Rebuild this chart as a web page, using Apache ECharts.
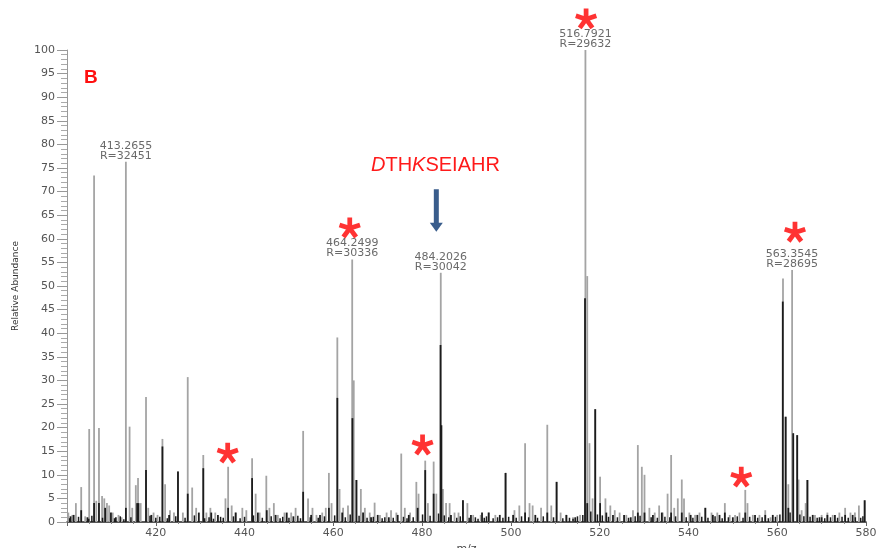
<!DOCTYPE html>
<html>
<head>
<meta charset="utf-8">
<script src="https://cdn.jsdelivr.net/npm/echarts@6/dist/echarts.min.js"></script>
<style>
  html, body { margin: 0; padding: 0; background: #fff; overflow: hidden; }
  #chart { width: 876px; height: 548px; }
</style>
</head>
<body>
<div id="chart"></div>
<script>
// Mass spectrum, panel B: m/z vs relative abundance

// Profile sticks drawn in light grey [m/z, relative abundance]
const greySticks = [
  [400.3, 2], [401.2, 1.5], [402.0, 4], [403.2, 7.4], [404.1, 1.2], [405.0, 19.7], [406.1, 73.4], [406.6, 4.5],
  [407.2, 19.9], [407.9, 5.5], [408.4, 5], [409.0, 4], [409.5, 3.5], [410.3, 2], [411.6, 1.5], [412.3, 1],
  [413.2655, 76.3], [414.1, 20.2], [414.7, 3], [415.5, 7.8], [416.0, 9.3], [416.6, 4], [417.8, 26.5], [418.3, 3],
  [419.5, 2], [420.4, 1.5], [421.5, 17.6], [422.1, 8], [423.2, 2.5], [424.1, 2], [425.0, 10.7], [426.1, 2],
  [427.2, 30.7], [428.2, 7.3], [429.1, 3], [430.7, 14.2], [431.4, 2], [432.3, 3], [433.4, 2], [435.7, 5],
  [436.3, 11.7], [437.1, 3.5], [438.0, 2], [439.5, 3], [440.4, 2.5], [441.7, 13.5], [442.5, 6], [443.4, 2],
  [444.9, 9.8], [445.6, 3], [446.6, 4], [447.5, 1.5], [449.0, 2], [450.5, 2], [451.5, 3], [453.2, 19.3],
  [454.3, 5], [455.3, 3], [456.2, 1.5], [457.5, 2], [458.3, 3], [459.0, 10.4], [459.6, 4], [460.9, 39.1],
  [461.4, 7], [462.2, 3], [463.3, 3.5], [464.2499, 55.6], [464.6, 30], [465.2, 8.9], [466.2, 7], [467.1, 3],
  [468.2, 2], [469.3, 4.1], [470.5, 1.5], [472.0, 2], [473.0, 2.5], [474.2, 2], [475.3, 14.5], [476.1, 3],
  [477.3, 2], [478.7, 8.5], [479.2, 6], [480.7, 13], [481.3, 4], [482.6, 12.8], [483.2, 6], [484.2026, 52.8],
  [484.7, 7], [485.4, 4], [486.2, 4], [487.3, 2], [488.2, 2], [489.2, 4.6], [490.2, 4], [491.5, 1.5],
  [493.2, 1.5], [495.0, 2], [496.5, 1.5], [498.8, 10.4], [500.8, 2.5], [501.9, 3.5], [503.2, 16.7], [504.2, 4],
  [504.9, 3.5], [506.8, 3], [508.2, 20.6], [509.1, 3.5], [510.3, 8.5], [511.2, 2], [512.5, 1.5], [514.0, 1],
  [515.6, 1.5], [516.7921, 100], [517.2, 52.1], [517.7, 16.7], [518.4, 5], [519.0, 23.9], [520.1, 9.6], [521.3, 5],
  [522.4, 3.5], [523.4, 2.5], [524.5, 2], [526.0, 1.5], [527.5, 2.5], [528.6, 16.3], [529.5, 11.7], [530.1, 10],
  [531.2, 3], [532.4, 2], [533.4, 3.5], [534.2, 2], [535.3, 6], [536.1, 14.2], [536.8, 3], [537.6, 5],
  [538.5, 9], [539.0, 5], [540.2, 2], [541.5, 1.5], [542.5, 2], [543.8, 3], [545.2, 2], [546.5, 2],
  [548.2, 4], [549.3, 1.5], [550.5, 1.5], [551.5, 2], [552.8, 6.8], [553.3, 4], [554.5, 1.5], [556.0, 1.5],
  [557.3, 2.5], [558.5, 1], [560.0, 1.5], [561.3, 51.6], [561.9, 22.3], [562.5, 8], [563.3545, 53.4], [563.6, 18.8],
  [564.5, 18.4], [564.8, 9], [565.5, 2.5], [566.4, 4], [566.8, 8.9], [568.5, 1.5], [570.0, 1.5], [571.3, 2],
  [572.5, 1.5], [574.0, 2], [575.3, 3], [576.5, 2], [577.5, 2], [578.4, 3.5], [579.7, 4.6]
];

// Overlaid sticks drawn in black [m/z, relative abundance]
const blackSticks = [
  [400.8, 1.2], [401.5, 1.5], [403.2, 2.5], [404.6, 1], [406.1, 4], [407.2, 4], [408.6, 3], [409.9, 2],
  [411.0, 1], [413.2655, 3], [415.8, 4], [416.1, 4], [417.8, 11], [419.0, 1.5], [421.5, 16], [423.0, 1.5],
  [425.0, 10.7], [427.2, 6], [429.7, 2], [430.7, 11.4], [432.5, 2], [434.0, 1.5], [436.3, 3], [438.0, 2],
  [441.7, 9.3], [443.0, 2], [445.0, 2.5], [447.0, 1.5], [449.5, 2], [451.0, 1.2], [453.2, 6.4], [455.0, 1.5],
  [457.0, 1.5], [459.0, 3], [460.9, 26.3], [462.0, 2], [464.3, 22], [465.2, 8.9], [466.7, 2], [468.5, 1],
  [470.0, 1.5], [472.5, 1], [474.5, 1.5], [477.0, 1.5], [479.0, 3], [480.7, 11], [482.6, 6], [484.15, 37.5],
  [484.35, 20.5], [486.5, 1.5], [489.2, 4.6], [491.0, 1.5], [493.5, 2], [495.0, 2], [497.5, 1.5], [498.8, 10.4],
  [500.5, 1.5], [503.2, 2], [505.5, 1.5], [508.2, 2], [510.3, 8.5], [512.5, 1.5], [514.5, 1], [516.7, 47.4],
  [517.2, 4], [519.0, 23.9], [520.1, 4], [521.5, 2], [523.0, 1.5], [525.5, 1.5], [527.0, 1], [528.6, 2],
  [530.1, 2], [532.0, 1.5], [534.0, 2], [536.1, 2], [538.5, 2], [540.5, 1.5], [542.0, 1.5], [543.8, 3],
  [545.5, 1.5], [547.0, 1.5], [548.2, 2], [550.0, 1], [552.8, 2], [555.0, 1.5], [557.3, 1.5], [559.0, 1.5],
  [561.25, 46.7], [561.9, 22.3], [562.5, 3], [563.6, 18.8], [564.5, 18.4], [566.8, 8.9], [568.0, 1.5], [570.0, 1],
  [571.3, 1.5], [573.0, 1.5], [575.3, 1.5], [577.0, 1.5], [579.7, 4.6]
];

// Low-level baseline noise drawn in black [m/z, relative abundance]
const baselineNoise = [
  [400.6, 0.8], [402.6, 1.1], [404.9, 0.7], [405.6, 1.3], [408.0, 0.9], [410.7, 0.8], [412.0, 1.2], [412.8, 0.6],
  [414.4, 1.0], [418.7, 1.3], [420.0, 0.9], [420.9, 1.1], [422.6, 0.8], [424.5, 1.2], [426.6, 0.9], [428.7, 1.4],
  [431.0, 0.8], [432.0, 1.0], [433.0, 0.7], [434.6, 1.1], [435.2, 0.9], [437.5, 1.2], [439.0, 0.8], [440.0, 1.1],
  [442.0, 1.4], [444.0, 0.9], [446.0, 1.2], [448.0, 0.8], [448.6, 1.1], [450.0, 0.9], [452.0, 1.3], [452.6, 0.8],
  [454.8, 1.0], [456.6, 0.9], [458.0, 1.2], [460.3, 1.4], [462.7, 1.0], [463.8, 1.6], [465.8, 1.3], [467.6, 0.9],
  [469.0, 1.1], [471.0, 0.8], [471.6, 1.0], [473.5, 0.9], [475.8, 1.1], [476.6, 0.8], [478.0, 1.0], [480.1, 1.6],
  [481.8, 1.3], [483.7, 1.8], [485.0, 1.4], [486.0, 1.0], [487.8, 0.9], [488.6, 1.2], [490.6, 0.9], [492.0, 1.0],
  [492.6, 0.7], [494.0, 0.9], [494.5, 1.2], [496.0, 0.8], [497.0, 1.0], [498.2, 0.9], [499.5, 1.1], [501.2, 0.9],
  [502.4, 1.2], [504.0, 1.0], [506.0, 0.9], [507.3, 1.2], [509.6, 1.0], [511.7, 0.8], [513.2, 0.9], [514.0, 0.7],
  [515.0, 1.2], [516.2, 1.5], [518.0, 2.2], [519.5, 1.6], [520.6, 1.4], [522.0, 1.1], [524.0, 1.0], [526.5, 0.9],
  [528.0, 1.2], [529.1, 1.3], [531.6, 1.0], [533.0, 0.9], [534.7, 1.1], [535.8, 1.0], [537.1, 1.2], [539.5, 1.0],
  [541.0, 0.9], [543.0, 1.1], [544.4, 0.9], [546.0, 1.2], [547.6, 0.8], [549.0, 1.0], [551.0, 1.2], [552.3, 0.9],
  [553.8, 1.1], [555.6, 0.9], [556.6, 1.0], [558.0, 0.8], [559.6, 1.1], [560.6, 1.6], [562.9, 2.0], [565.1, 1.6],
  [566.0, 1.2], [567.4, 1.1], [569.0, 0.9], [569.5, 1.0], [570.7, 0.8], [572.0, 1.0], [573.6, 0.9], [574.6, 1.1],
  [576.0, 0.9], [577.6, 1.0], [578.8, 0.9], [579.3, 1.2]
];

// Annotated peaks: m/z, relative abundance, resolution
const labelledMz = [413.2655, 464.2499, 484.2026, 516.7921, 563.3545];
const labelledAbundance = [76.3, 55.6, 52.8, 100, 53.4];
const labelledResolution = [32451, 30336, 30042, 29632, 28695];

// Asterisk markers [m/z, relative abundance]
const asteriskMarks = [
  [516.94, 106.6], [463.7, 62.3], [564.0, 61.4], [436.2, 14.6], [480.1, 16.3], [551.9, 9.5]
];

// Axis ticks
const xTickStart = 400, xTickEnd = 580, xTickStep = 20;
const yTickStart = 0, yTickEnd = 100, yTickStep = 5;

// Five-armed asterisk glyph as a path
function asteriskPath() {
  const L = 50, w = 11, parts = [];
  for (let k = 0; k < 5; k++) {
    const a = (-90 + 72 * k) * Math.PI / 180;
    const dx = Math.cos(a), dy = Math.sin(a), nx = -dy, ny = dx;
    const p = [
      [w * nx, w * ny], [L * dx + w * nx, L * dy + w * ny],
      [L * dx - w * nx, L * dy - w * ny], [-w * nx, -w * ny]
    ].map(q => (q[0] + 60).toFixed(2) + ' ' + (q[1] + 60).toFixed(2));
    parts.push('M' + p[0] + ' L' + p[1] + ' L' + p[2] + ' L' + p[3] + ' Z');
  }
  return 'path://' + parts.join(' ');
}

function stickRenderer(color, width) {
  return function (params, api) {
    const top = api.coord([api.value(0), api.value(1)]);
    const base = api.coord([api.value(0), 0]);
    return {
      type: 'line',
      shape: { x1: top[0], y1: top[1], x2: base[0], y2: base[1] },
      style: { stroke: color, lineWidth: width }
    };
  };
}

const chart = echarts.init(document.getElementById('chart'), null, { renderer: 'canvas' });

const axisFont = 'DejaVu Sans';
chart.setOption({
  animation: false,
  backgroundColor: '#ffffff',
  grid: { left: 67, right: 10, top: 50, bottom: 26, containLabel: false, outerBoundsMode: 'none' },
  xAxis: {
    type: 'value',
    min: xTickStart, max: xTickEnd, interval: xTickStep,
    name: 'm/z', nameLocation: 'middle', nameGap: 19,
    nameTextStyle: { fontFamily: axisFont, fontSize: 11, color: '#444' },
    axisLine: { lineStyle: { color: '#222', width: 1.5 } },
    axisTick: { show: true, length: 4, lineStyle: { color: '#666' } },
    minorTick: { show: true, splitNumber: 4, length: 2, lineStyle: { color: '#888' } },
    axisLabel: {
      margin: 6, fontFamily: axisFont, fontSize: 11, color: '#555',
      formatter: v => (v === xTickStart ? '' : String(v))
    },
    splitLine: { show: false }
  },
  yAxis: {
    type: 'value',
    min: yTickStart, max: yTickEnd, interval: yTickStep,
    name: 'Relative Abundance', nameLocation: 'middle', nameGap: 47,
    nameTextStyle: { fontFamily: axisFont, fontSize: 9, color: '#333' },
    axisLine: { show: true, lineStyle: { color: '#999', width: 1 } },
    axisTick: { show: true, length: 10, lineStyle: { color: '#999' } },
    minorTick: { show: true, splitNumber: 5, length: 6, lineStyle: { color: '#aaa' } },
    axisLabel: { margin: 12, fontFamily: axisFont, fontSize: 11, color: '#555' },
    splitLine: { show: false }
  },
  series: [
    {
      name: 'grey',
      type: 'custom',
      renderItem: stickRenderer('#a4a4a4', 1.8),
      data: greySticks,
      encode: { x: 0, y: 1 },
      clip: true,
      z: 2
    },
    {
      name: 'black',
      type: 'custom',
      renderItem: stickRenderer('#1c1c1c', 1.8),
      data: blackSticks,
      encode: { x: 0, y: 1 },
      clip: true,
      z: 3
    },
    {
      name: 'baseline',
      type: 'custom',
      renderItem: stickRenderer('#1c1c1c', 1.5),
      data: baselineNoise,
      encode: { x: 0, y: 1 },
      clip: true,
      z: 3
    },
    {
      name: 'peak labels',
      type: 'scatter',
      symbolSize: 0,
      clip: false,
      data: labelledMz.map((m, i) => [m, labelledAbundance[i], labelledResolution[i]]),
      label: {
        show: true,
        position: 'top',
        distance: 1,
        fontFamily: axisFont,
        fontSize: 11,
        lineHeight: 10,
        color: '#444',
        align: 'center',
        formatter: p => p.value[0].toFixed(4) + '\nR=' + p.value[2]
      },
      z: 4
    },
    {
      name: 'asterisks',
      type: 'scatter',
      symbol: asteriskPath(),
      symbolSize: 22,
      symbolKeepAspect: true,
      clip: false,
      itemStyle: { color: '#ff0000' },
      data: asteriskMarks,
      z: 5
    }
  ]
});

// Panel letter, peptide sequence and arrow pointing at the 484.2 peak
const arrowTop = chart.convertToPixel({ gridIndex: 0 }, [483.2, 70.5]);
const arrowTip = chart.convertToPixel({ gridIndex: 0 }, [483.2, 61.5]);
const seqPos = chart.convertToPixel({ gridIndex: 0 }, [483.0, 75.5]);
const ax = arrowTop[0], ay = arrowTop[1], ty = arrowTip[1];

chart.setOption({
  graphic: [
    {
      type: 'text', left: 84, top: 68, z: 10,
      style: { text: 'B', fill: '#ff1010', font: 'bold 19px "Liberation Sans", Arial, sans-serif' }
    },
    {
      type: 'text', x: seqPos[0], y: seqPos[1], z: 10,
      style: {
        text: '{i|D}{n|TH}{i|K}{n|SEIAHR}',
        align: 'center', verticalAlign: 'middle',
        rich: {
          i: { fill: '#ff1a1a', fontFamily: '"Liberation Sans", Arial, sans-serif', fontSize: 20, fontStyle: 'italic' },
          n: { fill: '#ff1a1a', fontFamily: '"Liberation Sans", Arial, sans-serif', fontSize: 20 }
        }
      }
    },
    {
      type: 'rect', z: 10,
      shape: { x: ax - 2.5, y: ay, width: 5, height: ty - ay - 8 },
      style: { fill: '#3a5d8c' }
    },
    {
      type: 'polygon', z: 10,
      shape: { points: [[ax - 6.5, ty - 9], [ax + 6.5, ty - 9], [ax, ty]] },
      style: { fill: '#3a5d8c' }
    }
  ]
});
</script>
</body>
</html>
